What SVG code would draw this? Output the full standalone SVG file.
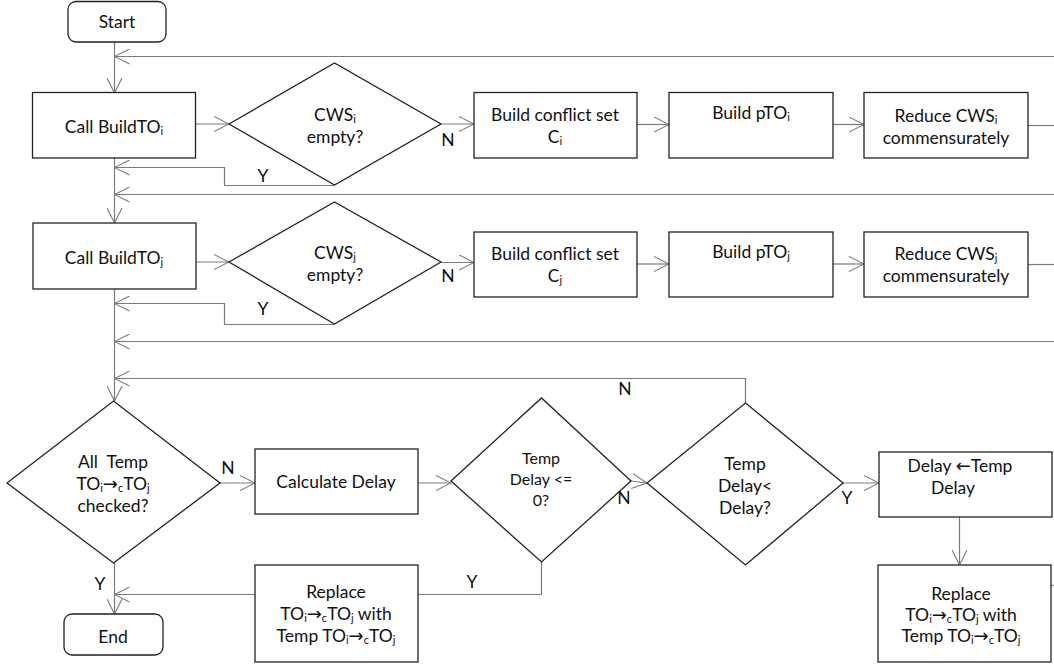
<svg xmlns="http://www.w3.org/2000/svg" width="1054" height="667" viewBox="0 0 1054 667">
  <style>
    .box { fill: #fff; stroke: #222; stroke-width: 1.3; }
    .conn { fill: none; stroke: #7a7a7a; stroke-width: 1.2; }
    text { font-family: Lato, "Liberation Sans", sans-serif; font-size: 17.5px; fill: #111; text-anchor: middle; }
    .sm { font-size: 16px; }
    .sub { font-size: 11px; }
    .arw { font-family: "DejaVu Sans", sans-serif; font-size: 18px; }
  </style>
  <defs>
    <marker id="open" markerUnits="userSpaceOnUse" markerWidth="16" markerHeight="16" viewBox="0 0 16 16" refX="15" refY="8" orient="auto">
      <path d="M0,0.5 L15,8 L0,15.5" fill="none" stroke="#7a7a7a" stroke-width="1.1"/>
    </marker>
  </defs>

  <!-- connectors -->
  <g id="connectors">
    <path class="conn" d="M114.5,42 V93" marker-end="url(#open)"/>
    <path class="conn" d="M1054,56.5 H114.5" marker-end="url(#open)"/>
    <path class="conn" d="M195,124 H229" marker-end="url(#open)"/>
    <path class="conn" d="M441,124 H474" marker-end="url(#open)"/>
    <path class="conn" d="M637,124.5 H669" marker-end="url(#open)"/>
    <path class="conn" d="M833,124.5 H864" marker-end="url(#open)"/>
    <path class="conn" d="M1028,125.5 H1054"/>
    <path class="conn" d="M334,185.5 H224.5 V167.5 H114.5" marker-end="url(#open)"/>
    <path class="conn" d="M1054,194.5 H114.5" marker-end="url(#open)"/>
    <path class="conn" d="M114.5,158 V223" marker-end="url(#open)"/>

    <path class="conn" d="M196,262 H229" marker-end="url(#open)"/>
    <path class="conn" d="M441,262.5 H474" marker-end="url(#open)"/>
    <path class="conn" d="M637,264 H669" marker-end="url(#open)"/>
    <path class="conn" d="M833,264 H864" marker-end="url(#open)"/>
    <path class="conn" d="M1028,264.5 H1054"/>
    <path class="conn" d="M334,324.5 H224.5 V303.5 H114.5" marker-end="url(#open)"/>
    <path class="conn" d="M1054,341.5 H114.5" marker-end="url(#open)"/>
    <path class="conn" d="M745.5,403 V378.5 H114.5" marker-end="url(#open)"/>
    <path class="conn" d="M114.5,289 V401" marker-end="url(#open)"/>

    <path class="conn" d="M220,483 H255" marker-end="url(#open)"/>
    <path class="conn" d="M418,483 H451" marker-end="url(#open)"/>
    <path class="conn" d="M631,481 L647,483" marker-end="url(#open)"/>
    <path class="conn" d="M843,483 H879" marker-end="url(#open)"/>
    <path class="conn" d="M959.5,517 V565" marker-end="url(#open)"/>
    <path class="conn" d="M1051,585.5 H1054"/>
    <path class="conn" d="M541.5,562 V594.5 H418"/>
    <path class="conn" d="M255,594.5 H114.5" marker-end="url(#open)"/>
    <path class="conn" d="M114.5,563 V614" marker-end="url(#open)"/>
  </g>

  <!-- row i -->
  <g id="start">
    <rect class="box" x="68" y="1.5" width="98" height="40.5" rx="8"/>
    <text x="117" y="28">Start</text>
  </g>
  <g id="call-build-i">
    <rect class="box" x="32.5" y="92.5" width="163" height="65.5"/>
    <text x="114" y="133">Call BuildTO<tspan class="sub" baseline-shift="-2">i</tspan></text>
  </g>
  <g id="cws-i-empty">
    <polygon class="box" points="229,124 334.5,63 441,124 334.5,185"/>
    <text x="335" y="121">CWS<tspan class="sub" baseline-shift="-2">i</tspan></text>
    <text x="335" y="143">empty?</text>
  </g>
  <g id="conflict-i">
    <rect class="box" x="474" y="92.5" width="163" height="65.5"/>
    <text x="555" y="121">Build conflict set</text>
    <text x="555" y="143">C<tspan class="sub" baseline-shift="-2">i</tspan></text>
  </g>
  <g id="pto-i">
    <rect class="box" x="669" y="92.5" width="164" height="65.5"/>
    <text x="751" y="119">Build pTO<tspan class="sub" baseline-shift="-2">i</tspan></text>
  </g>
  <g id="reduce-i">
    <rect class="box" x="864" y="92.5" width="164" height="65.5"/>
    <text x="946" y="122">Reduce CWS<tspan class="sub" baseline-shift="-2">i</tspan></text>
    <text x="946" y="144">commensurately</text>
  </g>

  <!-- row j -->
  <g id="call-build-j">
    <rect class="box" x="33" y="223" width="163" height="66"/>
    <text x="114" y="264">Call BuildTO<tspan class="sub" baseline-shift="-2">j</tspan></text>
  </g>
  <g id="cws-j-empty">
    <polygon class="box" points="229,262 334.5,202 441,262 334.5,324"/>
    <text x="335" y="259">CWS<tspan class="sub" baseline-shift="-2">j</tspan></text>
    <text x="335" y="281">empty?</text>
  </g>
  <g id="conflict-j">
    <rect class="box" x="474" y="232" width="163" height="65"/>
    <text x="555" y="260">Build conflict set</text>
    <text x="555" y="282">C<tspan class="sub" baseline-shift="-2">j</tspan></text>
  </g>
  <g id="pto-j">
    <rect class="box" x="669" y="232" width="164" height="65"/>
    <text x="751" y="258">Build pTO<tspan class="sub" baseline-shift="-2">j</tspan></text>
  </g>
  <g id="reduce-j">
    <rect class="box" x="864" y="232" width="164" height="65"/>
    <text x="946" y="260">Reduce CWS<tspan class="sub" baseline-shift="-2">j</tspan></text>
    <text x="946" y="282">commensurately</text>
  </g>

  <!-- delay loop -->
  <g id="all-checked">
    <polygon class="box" points="7,483 113.5,401 220,483 113.5,563"/>
    <text x="113" y="468" xml:space="preserve">All  Temp</text>
    <text x="113" y="490">TO<tspan class="sub" baseline-shift="-2">i</tspan><tspan class="arw">→</tspan><tspan class="sub" baseline-shift="-2">c</tspan>TO<tspan class="sub" baseline-shift="-2">j</tspan></text>
    <text x="113" y="512">checked?</text>
  </g>
  <g id="calc-delay">
    <rect class="box" x="255" y="449" width="163" height="65"/>
    <text x="336" y="488">Calculate Delay</text>
  </g>
  <g id="temp-le-zero">
    <polygon class="box" points="451,481 541.5,398 631,481 541.5,562"/>
    <text class="sm" x="541" y="464">Temp</text>
    <text class="sm" x="541" y="485">Delay &lt;=</text>
    <text class="sm" x="541" y="506">0?</text>
  </g>
  <g id="temp-lt-delay">
    <polygon class="box" points="647,483 745.5,403 843,483 745.5,565"/>
    <text x="745" y="470">Temp</text>
    <text x="745" y="492">Delay&lt;</text>
    <text x="745" y="514">Delay?</text>
  </g>
  <g id="assign-delay">
    <rect class="box" x="879" y="452" width="173" height="65"/>
    <text x="960" y="472">Delay <tspan class="arw">←</tspan>Temp</text>
    <text x="953" y="494">Delay</text>
  </g>
  <g id="replace-right">
    <rect class="box" x="878" y="565" width="173" height="97"/>
    <text x="961" y="600">Replace</text>
    <text x="961" y="621">TO<tspan class="sub" baseline-shift="-2">i</tspan><tspan class="arw">→</tspan><tspan class="sub" baseline-shift="-2">c</tspan>TO<tspan class="sub" baseline-shift="-2">j</tspan> with</text>
    <text x="961" y="642">Temp TO<tspan class="sub" baseline-shift="-2">i</tspan><tspan class="arw">→</tspan><tspan class="sub" baseline-shift="-2">c</tspan>TO<tspan class="sub" baseline-shift="-2">j</tspan></text>
  </g>
  <g id="replace-left">
    <rect class="box" x="255" y="565" width="163" height="97"/>
    <text x="336" y="598">Replace</text>
    <text x="336" y="620">TO<tspan class="sub" baseline-shift="-2">i</tspan><tspan class="arw">→</tspan><tspan class="sub" baseline-shift="-2">c</tspan>TO<tspan class="sub" baseline-shift="-2">j</tspan> with</text>
    <text x="336" y="642">Temp TO<tspan class="sub" baseline-shift="-2">i</tspan><tspan class="arw">→</tspan><tspan class="sub" baseline-shift="-2">c</tspan>TO<tspan class="sub" baseline-shift="-2">j</tspan></text>
  </g>
  <g id="end">
    <rect class="box" x="64" y="614" width="99" height="41" rx="8"/>
    <text x="113" y="643">End</text>
  </g>

  <!-- branch labels -->
  <g id="labels">
    <text x="448" y="146">N</text>
    <text x="263" y="182">Y</text>
    <text x="448" y="282">N</text>
    <text x="263" y="315">Y</text>
    <text x="625" y="395">N</text>
    <text x="228" y="474">N</text>
    <text x="624" y="504">N</text>
    <text x="847" y="504">Y</text>
    <text x="472" y="588">Y</text>
    <text x="100" y="590">Y</text>
  </g>
</svg>
